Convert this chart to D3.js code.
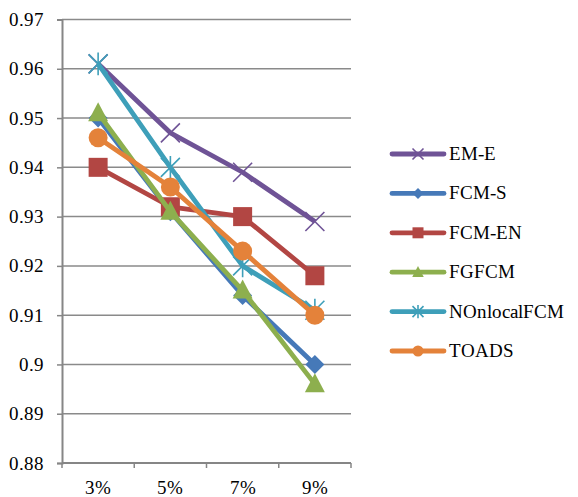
<!DOCTYPE html>
<html>
<head>
<meta charset="utf-8">
<script src="https://cdn.jsdelivr.net/npm/d3@7"></script>
<style>
  @font-face {
    font-family: "ChartSerif";
    src: local("Liberation Serif"), local("LiberationSerif-Regular"), local("LiberationSerif"),
         local("Liberation Serif Regular"), local("DejaVu Serif"), local("DejaVuSerif"),
         local("Times New Roman"), local("TimesNewRomanPSMT");
  }
  html, body { margin: 0; padding: 0; background: #fff; }
  svg { display: block; }
  svg text { font-family: "ChartSerif", "Liberation Serif", "DejaVu Serif", serif; fill: #000; }
</style>
</head>
<body>
<svg id="chart" width="578" height="497"></svg>
<script>
// Noise levels along the x axis
const categories = ["3%", "5%", "7%", "9%"];

// Accuracy per method
const emE        = [0.961, 0.947, 0.939, 0.929];
const fcmS       = [0.950, 0.931, 0.914, 0.900];
const fcmEN      = [0.940, 0.932, 0.930, 0.918];
const fgfcm      = [0.951, 0.931, 0.915, 0.896];
const nonlocal   = [0.961, 0.940, 0.920, 0.911];
const toads      = [0.946, 0.936, 0.923, 0.910];

const seriesNames = ["EM-E", "FCM-S", "FCM-EN", "FGFCM", "NOnlocalFCM", "TOADS"];
const yTicks = [0.88, 0.89, 0.9, 0.91, 0.92, 0.93, 0.94, 0.95, 0.96, 0.97];

const series = [
  { name: seriesNames[0], values: emE,      color: "#6F5396", marker: "x" },
  { name: seriesNames[1], values: fcmS,     color: "#4679B8", marker: "diamond" },
  { name: seriesNames[2], values: fcmEN,    color: "#B24643", marker: "square" },
  { name: seriesNames[3], values: fgfcm,    color: "#8DAF4E", marker: "triangle" },
  { name: seriesNames[4], values: nonlocal, color: "#3E9FB9", marker: "star" },
  { name: seriesNames[5], values: toads,    color: "#E4823A", marker: "circle" }
];

const svg = d3.select("#chart");
const plotLeft = 62, plotRight = 351, plotTop = 19.5, plotBottom = 463;

const x = d3.scaleBand().domain(categories).range([plotLeft, plotRight]);
const y = d3.scaleLinear().domain([0.88, 0.97]).range([plotBottom, plotTop]);

const fmt = d => String(+d.toFixed(2));

// Horizontal gridlines
svg.append("g")
  .selectAll("line")
  .data(yTicks.slice(1))
  .join("line")
  .attr("x1", plotLeft).attr("x2", plotRight)
  .attr("y1", d => y(d)).attr("y2", d => y(d))
  .attr("stroke", "#8a8a8a").attr("stroke-width", 1.5);

// Y axis
const yAxis = svg.append("g")
  .attr("transform", `translate(${plotLeft},0)`)
  .call(d3.axisLeft(y).tickValues(yTicks).tickFormat(fmt).tickSize(5).tickPadding(13));
yAxis.attr("font-family", null).attr("font-size", null);
yAxis.select(".domain").attr("stroke", "#868686").attr("stroke-width", 2);
yAxis.selectAll(".tick line").attr("stroke", "#868686").attr("stroke-width", 1.5);
yAxis.selectAll("text").attr("font-size", 19).attr("fill", "#000");

// X axis with ticks at category boundaries
const xAxis = svg.append("g").attr("transform", `translate(0,${plotBottom})`);
xAxis.append("line")
  .attr("x1", plotLeft).attr("x2", plotRight).attr("y1", 0).attr("y2", 0)
  .attr("stroke", "#868686").attr("stroke-width", 2);
const bounds = categories.map(c => x(c)).concat([x(categories[categories.length - 1]) + x.bandwidth()]);
xAxis.selectAll("line.tk")
  .data(bounds)
  .join("line").attr("class", "tk")
  .attr("x1", d => d).attr("x2", d => d).attr("y1", 0).attr("y2", 5)
  .attr("stroke", "#868686").attr("stroke-width", 1.5);
xAxis.selectAll("text")
  .data(categories)
  .join("text")
  .attr("x", d => x(d) + x.bandwidth() / 2)
  .attr("y", 31)
  .attr("text-anchor", "middle")
  .attr("font-size", 19)
  .text(d => d);

const cx = (d, i) => x(categories[i]) + x.bandwidth() / 2;

function drawMarker(g, type, color, s) {
  if (type === "x") {
    g.append("path")
      .attr("d", `M${-s},${-s}L${s},${s}M${-s},${s}L${s},${-s}`)
      .attr("stroke", color).attr("stroke-width", 1.6).attr("fill", "none");
  } else if (type === "star") {
    g.append("path")
      .attr("d", `M${-s},${-s}L${s},${s}M${-s},${s}L${s},${-s}M0,${-s * 1.2}L0,${s * 1.2}`)
      .attr("stroke", color).attr("stroke-width", 1.6).attr("fill", "none");
  } else if (type === "diamond") {
    g.append("path")
      .attr("d", `M0,${-s}L${s},0L0,${s}L${-s},0Z`)
      .attr("fill", color);
  } else if (type === "square") {
    g.append("rect")
      .attr("x", -s).attr("y", -s).attr("width", 2 * s).attr("height", 2 * s)
      .attr("fill", color);
  } else if (type === "triangle") {
    g.append("path")
      .attr("d", `M0,${-s * 1.15}L${s * 1.05},${s * 0.85}L${-s * 1.05},${s * 0.85}Z`)
      .attr("fill", color);
  } else if (type === "circle") {
    g.append("circle").attr("r", s).attr("fill", color);
  }
}

const line = d3.line().x(cx).y(d => y(d));

const plot = svg.append("g");
series.forEach(s => {
  const g = plot.append("g");
  g.append("path")
    .datum(s.values)
    .attr("d", line)
    .attr("fill", "none")
    .attr("stroke", s.color)
    .attr("stroke-width", 4.8)
    .attr("stroke-linejoin", "round");
  s.values.forEach((v, i) => {
    const m = g.append("g").attr("transform", `translate(${cx(v, i)},${y(v)})`);
    drawMarker(m, s.marker, s.color, 9.5);
  });
});

// Legend
const legend = svg.append("g");
series.forEach((s, i) => {
  const ly = 154 + i * 39.4;
  const g = legend.append("g").attr("transform", `translate(0,${ly})`);
  g.append("line")
    .attr("x1", 392).attr("x2", 444).attr("y1", 0).attr("y2", 0)
    .attr("stroke", s.color).attr("stroke-width", 4.8).attr("stroke-linecap", "round");
  const m = g.append("g").attr("transform", "translate(418,0)");
  drawMarker(m, s.marker, s.color, 5.5);
  g.append("text")
    .attr("x", 449).attr("y", 6)
    .attr("font-size", 19)
    .text(s.name);
});
</script>
</body>
</html>
